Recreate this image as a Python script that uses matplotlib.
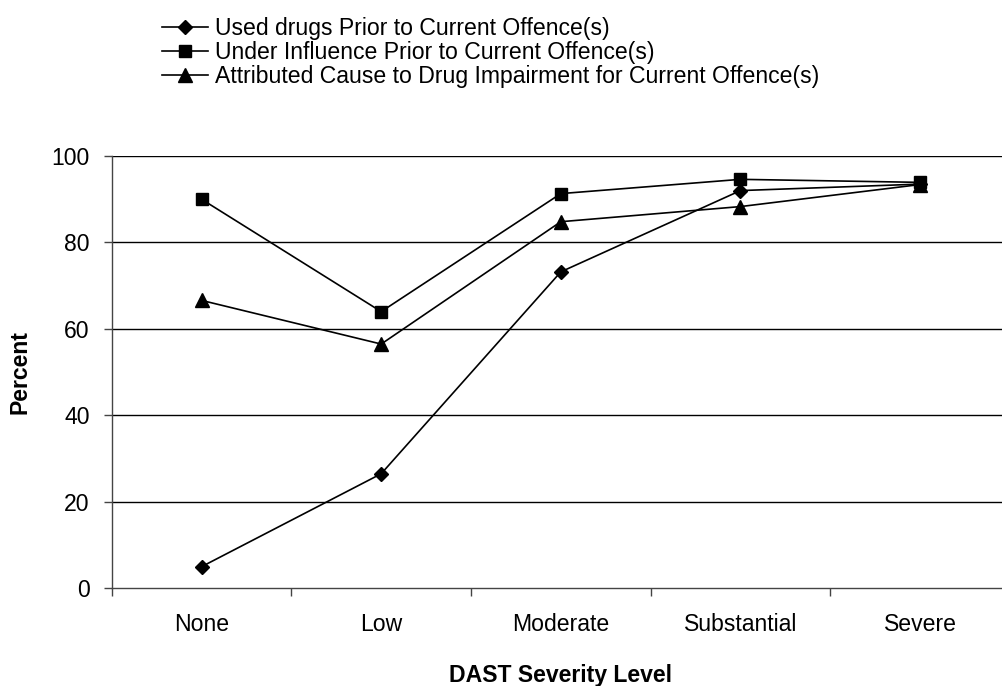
#!/usr/bin/env python3
# -*- coding: utf-8 -*-
"""Drug use vs DAST severity level, line chart."""

import matplotlib as mpl
import matplotlib.pyplot as plt
import numpy as np

mpl.rcParams["font.family"] = ["Liberation Sans", "DejaVu Sans"]
mpl.rcParams["font.size"] = 16.6

# =======================
# Data
# =======================
CATEGORIES = ["None", "Low", "Moderate", "Substantial", "Severe"]
USED_DRUGS = [5.0, 26.5, 73.2, 92.0, 93.5]
UNDER_INFLUENCE = [90.0, 64.0, 91.3, 94.6, 93.9]
ATTRIBUTED = [66.6, 56.5, 84.8, 88.3, 93.4]

LABELS = [
    "Used drugs Prior to Current Offence(s)",
    "Under Influence Prior to Current Offence(s)",
    "Attributed Cause to Drug Impairment for Current Offence(s)",
]
YTICKS = [0, 20, 40, 60, 80, 100]

LW = 1.2


def main():
    fig = plt.figure(figsize=(10.03, 6.86), dpi=100)
    ax = fig.add_axes([0.1114, 0.1424, 0.8955, 0.6302])

    x = np.arange(len(CATEGORIES)) + 0.5

    l1, = ax.plot(x, USED_DRUGS, color="black", lw=LW, marker="D", ms=7)
    l2, = ax.plot(x, UNDER_INFLUENCE, color="black", lw=LW, marker="s", ms=8.5)
    l3, = ax.plot(x, ATTRIBUTED, color="black", lw=LW, marker="^", ms=10)

    ax.set_xlim(0, len(CATEGORIES))
    ax.set_ylim(0, 100)
    ax.set_yticks(YTICKS)
    ax.set_xticks(x)
    ax.set_xticklabels(CATEGORIES)
    ax.set_xticks(np.arange(len(CATEGORIES) + 1), minor=True)
    ax.tick_params(axis="x", which="major", length=0, pad=18)
    ax.tick_params(axis="x", which="minor", length=6, width=1, color="#444444")
    ax.tick_params(axis="y", length=6, width=1, color="#444444", pad=10)

    for v in YTICKS[1:]:
        ax.axhline(v, color="black", lw=1, zorder=0)

    for s in ["top", "right"]:
        ax.spines[s].set_visible(False)
    for s in ["left", "bottom"]:
        ax.spines[s].set_color("#444444")
        ax.spines[s].set_linewidth(1)

    ax.set_ylabel("Percent", fontweight="bold", labelpad=14)
    ax.set_xlabel("DAST Severity Level", fontweight="bold", labelpad=20)

    fig.legend(
        [l1, l2, l3], LABELS,
        loc="upper left", bbox_to_anchor=(0.152, 0.988),
        frameon=False, handlelength=2.0, handletextpad=0.3,
        labelspacing=0.04, borderaxespad=0,
    )

    fig.savefig("out.png", dpi=100)


if __name__ == "__main__":
    main()
